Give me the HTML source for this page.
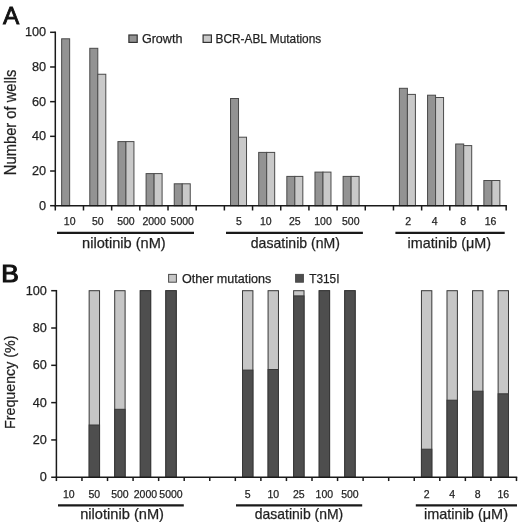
<!DOCTYPE html>
<html><head><meta charset="utf-8"><style>
html,body{margin:0;padding:0;background:#fff;}
svg{display:block;font-family:"Liberation Sans", sans-serif;filter:grayscale(1);}
text{stroke:#231f20;stroke-width:0.25px;}
</style></head><body>
<svg width="520" height="522" viewBox="0 0 520 522">
<rect x="61.65" y="38.80" width="8.00" height="166.90" fill="#939393" stroke="#4a4a4a" stroke-width="1"/>
<rect x="89.80" y="48.30" width="8.00" height="157.40" fill="#939393" stroke="#4a4a4a" stroke-width="1"/>
<rect x="97.80" y="74.25" width="8.00" height="131.45" fill="#c9c9c9" stroke="#4a4a4a" stroke-width="1"/>
<rect x="117.94" y="141.60" width="8.00" height="64.10" fill="#939393" stroke="#4a4a4a" stroke-width="1"/>
<rect x="125.94" y="141.60" width="8.00" height="64.10" fill="#c9c9c9" stroke="#4a4a4a" stroke-width="1"/>
<rect x="146.09" y="173.60" width="8.00" height="32.10" fill="#939393" stroke="#4a4a4a" stroke-width="1"/>
<rect x="154.09" y="173.60" width="8.00" height="32.10" fill="#c9c9c9" stroke="#4a4a4a" stroke-width="1"/>
<rect x="174.24" y="183.80" width="8.00" height="21.90" fill="#939393" stroke="#4a4a4a" stroke-width="1"/>
<rect x="182.24" y="183.80" width="8.00" height="21.90" fill="#c9c9c9" stroke="#4a4a4a" stroke-width="1"/>
<rect x="230.53" y="98.50" width="8.00" height="107.20" fill="#939393" stroke="#4a4a4a" stroke-width="1"/>
<rect x="238.53" y="137.20" width="8.00" height="68.50" fill="#c9c9c9" stroke="#4a4a4a" stroke-width="1"/>
<rect x="258.68" y="152.40" width="8.00" height="53.30" fill="#939393" stroke="#4a4a4a" stroke-width="1"/>
<rect x="266.68" y="152.40" width="8.00" height="53.30" fill="#c9c9c9" stroke="#4a4a4a" stroke-width="1"/>
<rect x="286.83" y="176.40" width="8.00" height="29.30" fill="#939393" stroke="#4a4a4a" stroke-width="1"/>
<rect x="294.83" y="176.40" width="8.00" height="29.30" fill="#c9c9c9" stroke="#4a4a4a" stroke-width="1"/>
<rect x="314.97" y="172.10" width="8.00" height="33.60" fill="#939393" stroke="#4a4a4a" stroke-width="1"/>
<rect x="322.97" y="172.10" width="8.00" height="33.60" fill="#c9c9c9" stroke="#4a4a4a" stroke-width="1"/>
<rect x="343.12" y="176.40" width="8.00" height="29.30" fill="#939393" stroke="#4a4a4a" stroke-width="1"/>
<rect x="351.12" y="176.40" width="8.00" height="29.30" fill="#c9c9c9" stroke="#4a4a4a" stroke-width="1"/>
<rect x="399.41" y="88.30" width="8.00" height="117.40" fill="#939393" stroke="#4a4a4a" stroke-width="1"/>
<rect x="407.41" y="94.40" width="8.00" height="111.30" fill="#c9c9c9" stroke="#4a4a4a" stroke-width="1"/>
<rect x="427.56" y="95.20" width="8.00" height="110.50" fill="#939393" stroke="#4a4a4a" stroke-width="1"/>
<rect x="435.56" y="97.50" width="8.00" height="108.20" fill="#c9c9c9" stroke="#4a4a4a" stroke-width="1"/>
<rect x="455.71" y="144.00" width="8.00" height="61.70" fill="#939393" stroke="#4a4a4a" stroke-width="1"/>
<rect x="463.71" y="145.60" width="8.00" height="60.10" fill="#c9c9c9" stroke="#4a4a4a" stroke-width="1"/>
<rect x="483.86" y="180.50" width="8.00" height="25.20" fill="#939393" stroke="#4a4a4a" stroke-width="1"/>
<rect x="491.86" y="180.50" width="8.00" height="25.20" fill="#c9c9c9" stroke="#4a4a4a" stroke-width="1"/>
<line x1="55.3" y1="31.549999999999997" x2="55.3" y2="206.45" stroke="#1a1a1a" stroke-width="1.5"/>
<line x1="54.55" y1="205.7" x2="506.93" y2="205.7" stroke="#1a1a1a" stroke-width="1.5"/>
<line x1="50.099999999999994" y1="205.70" x2="55.3" y2="205.70" stroke="#1a1a1a" stroke-width="1.5"/>
<text x="46.099999999999994" y="209.55" font-size="12.7" text-anchor="end" fill="#231f20">0</text>
<line x1="50.099999999999994" y1="171.02" x2="55.3" y2="171.02" stroke="#1a1a1a" stroke-width="1.5"/>
<text x="46.099999999999994" y="174.87" font-size="12.7" text-anchor="end" fill="#231f20">20</text>
<line x1="50.099999999999994" y1="136.34" x2="55.3" y2="136.34" stroke="#1a1a1a" stroke-width="1.5"/>
<text x="46.099999999999994" y="140.19" font-size="12.7" text-anchor="end" fill="#231f20">40</text>
<line x1="50.099999999999994" y1="101.66" x2="55.3" y2="101.66" stroke="#1a1a1a" stroke-width="1.5"/>
<text x="46.099999999999994" y="105.51" font-size="12.7" text-anchor="end" fill="#231f20">60</text>
<line x1="50.099999999999994" y1="66.98" x2="55.3" y2="66.98" stroke="#1a1a1a" stroke-width="1.5"/>
<text x="46.099999999999994" y="70.83" font-size="12.7" text-anchor="end" fill="#231f20">80</text>
<line x1="50.099999999999994" y1="32.30" x2="55.3" y2="32.30" stroke="#1a1a1a" stroke-width="1.5"/>
<text x="46.099999999999994" y="36.15" font-size="12.7" text-anchor="end" fill="#231f20">100</text>
<line x1="55.30" y1="205.7" x2="55.30" y2="210.5" stroke="#1a1a1a" stroke-width="1.5"/>
<line x1="83.48" y1="205.7" x2="83.48" y2="210.5" stroke="#1a1a1a" stroke-width="1.5"/>
<line x1="111.66" y1="205.7" x2="111.66" y2="210.5" stroke="#1a1a1a" stroke-width="1.5"/>
<line x1="139.84" y1="205.7" x2="139.84" y2="210.5" stroke="#1a1a1a" stroke-width="1.5"/>
<line x1="168.02" y1="205.7" x2="168.02" y2="210.5" stroke="#1a1a1a" stroke-width="1.5"/>
<line x1="196.20" y1="205.7" x2="196.20" y2="210.5" stroke="#1a1a1a" stroke-width="1.5"/>
<line x1="224.38" y1="205.7" x2="224.38" y2="210.5" stroke="#1a1a1a" stroke-width="1.5"/>
<line x1="252.56" y1="205.7" x2="252.56" y2="210.5" stroke="#1a1a1a" stroke-width="1.5"/>
<line x1="280.74" y1="205.7" x2="280.74" y2="210.5" stroke="#1a1a1a" stroke-width="1.5"/>
<line x1="308.92" y1="205.7" x2="308.92" y2="210.5" stroke="#1a1a1a" stroke-width="1.5"/>
<line x1="337.10" y1="205.7" x2="337.10" y2="210.5" stroke="#1a1a1a" stroke-width="1.5"/>
<line x1="365.28" y1="205.7" x2="365.28" y2="210.5" stroke="#1a1a1a" stroke-width="1.5"/>
<line x1="393.46" y1="205.7" x2="393.46" y2="210.5" stroke="#1a1a1a" stroke-width="1.5"/>
<line x1="421.64" y1="205.7" x2="421.64" y2="210.5" stroke="#1a1a1a" stroke-width="1.5"/>
<line x1="449.82" y1="205.7" x2="449.82" y2="210.5" stroke="#1a1a1a" stroke-width="1.5"/>
<line x1="478.00" y1="205.7" x2="478.00" y2="210.5" stroke="#1a1a1a" stroke-width="1.5"/>
<line x1="506.18" y1="205.7" x2="506.18" y2="210.5" stroke="#1a1a1a" stroke-width="1.5"/>
<text x="69.65" y="225.3" font-size="10.5" text-anchor="middle" fill="#231f20">10</text>
<text x="97.80" y="225.3" font-size="10.5" text-anchor="middle" fill="#231f20">50</text>
<text x="125.94" y="225.3" font-size="10.5" text-anchor="middle" fill="#231f20">500</text>
<text x="154.09" y="225.3" font-size="10.5" text-anchor="middle" fill="#231f20">2000</text>
<text x="182.24" y="225.3" font-size="10.5" text-anchor="middle" fill="#231f20">5000</text>
<text x="239.03" y="225.3" font-size="10.5" text-anchor="middle" fill="#231f20">5</text>
<text x="265.88" y="225.3" font-size="10.5" text-anchor="middle" fill="#231f20">10</text>
<text x="294.83" y="225.3" font-size="10.5" text-anchor="middle" fill="#231f20">25</text>
<text x="322.97" y="225.3" font-size="10.5" text-anchor="middle" fill="#231f20">100</text>
<text x="350.72" y="225.3" font-size="10.5" text-anchor="middle" fill="#231f20">500</text>
<text x="408.11" y="225.3" font-size="10.5" text-anchor="middle" fill="#231f20">2</text>
<text x="434.56" y="225.3" font-size="10.5" text-anchor="middle" fill="#231f20">4</text>
<text x="463.11" y="225.3" font-size="10.5" text-anchor="middle" fill="#231f20">8</text>
<text x="490.56" y="225.3" font-size="10.5" text-anchor="middle" fill="#231f20">16</text>
<line x1="57" y1="232.9" x2="194" y2="232.9" stroke="#1a1a1a" stroke-width="2.4"/>
<text x="82.1" y="248.0" font-size="14.4" fill="#231f20" textLength="83.6" lengthAdjust="spacingAndGlyphs">nilotinib (nM)</text>
<line x1="226" y1="232.9" x2="362.9" y2="232.9" stroke="#1a1a1a" stroke-width="2.4"/>
<text x="250.8" y="248.0" font-size="14.4" fill="#231f20" textLength="89.1" lengthAdjust="spacingAndGlyphs">dasatinib (nM)</text>
<line x1="395.4" y1="232.9" x2="504.7" y2="232.9" stroke="#1a1a1a" stroke-width="2.4"/>
<text x="407.6" y="248.0" font-size="14.4" fill="#231f20" textLength="83.4" lengthAdjust="spacingAndGlyphs">imatinib (μM)</text>
<rect x="128.9" y="35.0" width="8.3" height="7.4" fill="#939393" stroke="#333" stroke-width="1.2"/>
<text x="141.9" y="43.2" font-size="12.6" fill="#231f20" textLength="40.5" lengthAdjust="spacingAndGlyphs">Growth</text>
<rect x="203.1" y="35.0" width="8.3" height="7.4" fill="#c9c9c9" stroke="#333" stroke-width="1.2"/>
<text x="215.6" y="43.2" font-size="12.6" fill="#231f20" textLength="105.6" lengthAdjust="spacingAndGlyphs">BCR-ABL Mutations</text>
<text transform="translate(15.9,175.2) rotate(-90)" font-size="16.5" fill="#231f20" textLength="105.7" lengthAdjust="spacingAndGlyphs">Number of wells</text>
<text x="3.0" y="24.3" font-size="24.4" fill="#111" style="stroke:#111;stroke-width:0.8px">A</text>
<rect x="89.15" y="290.70" width="10.4" height="186.55" fill="#c6c6c6" stroke="#383838" stroke-width="1"/>
<rect x="89.15" y="425.00" width="10.4" height="52.25" fill="#4e4e4e" stroke="#383838" stroke-width="1"/>
<rect x="114.71" y="290.70" width="10.4" height="186.55" fill="#c6c6c6" stroke="#383838" stroke-width="1"/>
<rect x="114.71" y="409.30" width="10.4" height="67.95" fill="#4e4e4e" stroke="#383838" stroke-width="1"/>
<rect x="140.27" y="290.70" width="10.4" height="186.55" fill="#c6c6c6" stroke="#383838" stroke-width="1"/>
<rect x="140.27" y="290.70" width="10.4" height="186.55" fill="#4e4e4e" stroke="#383838" stroke-width="1"/>
<rect x="165.83" y="290.70" width="10.4" height="186.55" fill="#c6c6c6" stroke="#383838" stroke-width="1"/>
<rect x="165.83" y="290.70" width="10.4" height="186.55" fill="#4e4e4e" stroke="#383838" stroke-width="1"/>
<rect x="242.51" y="290.70" width="10.4" height="186.55" fill="#c6c6c6" stroke="#383838" stroke-width="1"/>
<rect x="242.51" y="370.10" width="10.4" height="107.15" fill="#4e4e4e" stroke="#383838" stroke-width="1"/>
<rect x="268.07" y="290.70" width="10.4" height="186.55" fill="#c6c6c6" stroke="#383838" stroke-width="1"/>
<rect x="268.07" y="369.50" width="10.4" height="107.75" fill="#4e4e4e" stroke="#383838" stroke-width="1"/>
<rect x="293.63" y="290.70" width="10.4" height="186.55" fill="#c6c6c6" stroke="#383838" stroke-width="1"/>
<rect x="293.63" y="295.90" width="10.4" height="181.35" fill="#4e4e4e" stroke="#383838" stroke-width="1"/>
<rect x="319.19" y="290.70" width="10.4" height="186.55" fill="#c6c6c6" stroke="#383838" stroke-width="1"/>
<rect x="319.19" y="290.70" width="10.4" height="186.55" fill="#4e4e4e" stroke="#383838" stroke-width="1"/>
<rect x="344.75" y="290.70" width="10.4" height="186.55" fill="#c6c6c6" stroke="#383838" stroke-width="1"/>
<rect x="344.75" y="290.70" width="10.4" height="186.55" fill="#4e4e4e" stroke="#383838" stroke-width="1"/>
<rect x="421.43" y="290.70" width="10.4" height="186.55" fill="#c6c6c6" stroke="#383838" stroke-width="1"/>
<rect x="421.43" y="449.20" width="10.4" height="28.05" fill="#4e4e4e" stroke="#383838" stroke-width="1"/>
<rect x="446.99" y="290.70" width="10.4" height="186.55" fill="#c6c6c6" stroke="#383838" stroke-width="1"/>
<rect x="446.99" y="400.20" width="10.4" height="77.05" fill="#4e4e4e" stroke="#383838" stroke-width="1"/>
<rect x="472.55" y="290.70" width="10.4" height="186.55" fill="#c6c6c6" stroke="#383838" stroke-width="1"/>
<rect x="472.55" y="391.20" width="10.4" height="86.05" fill="#4e4e4e" stroke="#383838" stroke-width="1"/>
<rect x="498.11" y="290.70" width="10.4" height="186.55" fill="#c6c6c6" stroke="#383838" stroke-width="1"/>
<rect x="498.11" y="393.80" width="10.4" height="83.45" fill="#4e4e4e" stroke="#383838" stroke-width="1"/>
<line x1="56.4" y1="289.95" x2="56.4" y2="478.0" stroke="#1a1a1a" stroke-width="1.5"/>
<line x1="55.65" y1="477.25" x2="517.23" y2="477.25" stroke="#1a1a1a" stroke-width="1.5"/>
<line x1="51.199999999999996" y1="477.25" x2="56.4" y2="477.25" stroke="#1a1a1a" stroke-width="1.5"/>
<text x="46.9" y="481.20" font-size="12.7" text-anchor="end" fill="#231f20">0</text>
<line x1="51.199999999999996" y1="439.94" x2="56.4" y2="439.94" stroke="#1a1a1a" stroke-width="1.5"/>
<text x="46.9" y="443.89" font-size="12.7" text-anchor="end" fill="#231f20">20</text>
<line x1="51.199999999999996" y1="402.63" x2="56.4" y2="402.63" stroke="#1a1a1a" stroke-width="1.5"/>
<text x="46.9" y="406.58" font-size="12.7" text-anchor="end" fill="#231f20">40</text>
<line x1="51.199999999999996" y1="365.32" x2="56.4" y2="365.32" stroke="#1a1a1a" stroke-width="1.5"/>
<text x="46.9" y="369.27" font-size="12.7" text-anchor="end" fill="#231f20">60</text>
<line x1="51.199999999999996" y1="328.01" x2="56.4" y2="328.01" stroke="#1a1a1a" stroke-width="1.5"/>
<text x="46.9" y="331.96" font-size="12.7" text-anchor="end" fill="#231f20">80</text>
<line x1="51.199999999999996" y1="290.70" x2="56.4" y2="290.70" stroke="#1a1a1a" stroke-width="1.5"/>
<text x="46.9" y="294.65" font-size="12.7" text-anchor="end" fill="#231f20">100</text>
<line x1="56.40" y1="477.25" x2="56.40" y2="481.05" stroke="#1a1a1a" stroke-width="1.5"/>
<line x1="81.96" y1="477.25" x2="81.96" y2="481.05" stroke="#1a1a1a" stroke-width="1.5"/>
<line x1="107.52" y1="477.25" x2="107.52" y2="481.05" stroke="#1a1a1a" stroke-width="1.5"/>
<line x1="133.08" y1="477.25" x2="133.08" y2="481.05" stroke="#1a1a1a" stroke-width="1.5"/>
<line x1="158.64" y1="477.25" x2="158.64" y2="481.05" stroke="#1a1a1a" stroke-width="1.5"/>
<line x1="184.20" y1="477.25" x2="184.20" y2="481.05" stroke="#1a1a1a" stroke-width="1.5"/>
<line x1="209.76" y1="477.25" x2="209.76" y2="481.05" stroke="#1a1a1a" stroke-width="1.5"/>
<line x1="235.32" y1="477.25" x2="235.32" y2="481.05" stroke="#1a1a1a" stroke-width="1.5"/>
<line x1="260.88" y1="477.25" x2="260.88" y2="481.05" stroke="#1a1a1a" stroke-width="1.5"/>
<line x1="286.44" y1="477.25" x2="286.44" y2="481.05" stroke="#1a1a1a" stroke-width="1.5"/>
<line x1="312.00" y1="477.25" x2="312.00" y2="481.05" stroke="#1a1a1a" stroke-width="1.5"/>
<line x1="337.56" y1="477.25" x2="337.56" y2="481.05" stroke="#1a1a1a" stroke-width="1.5"/>
<line x1="363.12" y1="477.25" x2="363.12" y2="481.05" stroke="#1a1a1a" stroke-width="1.5"/>
<line x1="388.68" y1="477.25" x2="388.68" y2="481.05" stroke="#1a1a1a" stroke-width="1.5"/>
<line x1="414.24" y1="477.25" x2="414.24" y2="481.05" stroke="#1a1a1a" stroke-width="1.5"/>
<line x1="439.80" y1="477.25" x2="439.80" y2="481.05" stroke="#1a1a1a" stroke-width="1.5"/>
<line x1="465.36" y1="477.25" x2="465.36" y2="481.05" stroke="#1a1a1a" stroke-width="1.5"/>
<line x1="490.92" y1="477.25" x2="490.92" y2="481.05" stroke="#1a1a1a" stroke-width="1.5"/>
<line x1="516.48" y1="477.25" x2="516.48" y2="481.05" stroke="#1a1a1a" stroke-width="1.5"/>
<text x="68.79" y="498.0" font-size="10.5" text-anchor="middle" fill="#231f20">10</text>
<text x="94.35" y="498.0" font-size="10.5" text-anchor="middle" fill="#231f20">50</text>
<text x="119.91" y="498.0" font-size="10.5" text-anchor="middle" fill="#231f20">500</text>
<text x="145.47" y="498.0" font-size="10.5" text-anchor="middle" fill="#231f20">2000</text>
<text x="171.03" y="498.0" font-size="10.5" text-anchor="middle" fill="#231f20">5000</text>
<text x="247.71" y="498.0" font-size="10.5" text-anchor="middle" fill="#231f20">5</text>
<text x="273.27" y="498.0" font-size="10.5" text-anchor="middle" fill="#231f20">10</text>
<text x="298.83" y="498.0" font-size="10.5" text-anchor="middle" fill="#231f20">25</text>
<text x="324.39" y="498.0" font-size="10.5" text-anchor="middle" fill="#231f20">100</text>
<text x="349.95" y="498.0" font-size="10.5" text-anchor="middle" fill="#231f20">500</text>
<text x="426.63" y="498.0" font-size="10.5" text-anchor="middle" fill="#231f20">2</text>
<text x="452.19" y="498.0" font-size="10.5" text-anchor="middle" fill="#231f20">4</text>
<text x="477.75" y="498.0" font-size="10.5" text-anchor="middle" fill="#231f20">8</text>
<text x="503.31" y="498.0" font-size="10.5" text-anchor="middle" fill="#231f20">16</text>
<line x1="58" y1="505.3" x2="183.8" y2="505.3" stroke="#1a1a1a" stroke-width="2.3"/>
<text x="80.2" y="518.7" font-size="14.4" fill="#231f20" textLength="83.8" lengthAdjust="spacingAndGlyphs">nilotinib (nM)</text>
<line x1="236" y1="505.3" x2="362.2" y2="505.3" stroke="#1a1a1a" stroke-width="2.3"/>
<text x="254.8" y="518.7" font-size="14.4" fill="#231f20" textLength="88.4" lengthAdjust="spacingAndGlyphs">dasatinib (nM)</text>
<line x1="415.8" y1="505.3" x2="517" y2="505.3" stroke="#1a1a1a" stroke-width="2.3"/>
<text x="424.0" y="518.7" font-size="14.4" fill="#231f20" textLength="84.0" lengthAdjust="spacingAndGlyphs">imatinib (μM)</text>
<rect x="168.6" y="274.4" width="7.8" height="7.8" fill="#c6c6c6" stroke="#4a4a4a" stroke-width="1"/>
<text x="181.9" y="282.6" font-size="12.2" fill="#231f20" textLength="89.4" lengthAdjust="spacingAndGlyphs">Other mutations</text>
<rect x="295.6" y="274.4" width="7.8" height="7.8" fill="#4e4e4e" stroke="#4a4a4a" stroke-width="1"/>
<text x="309.2" y="282.6" font-size="12.2" fill="#231f20" textLength="30.3" lengthAdjust="spacingAndGlyphs">T315I</text>
<text transform="translate(14.9,429.0) rotate(-90)" font-size="14.9" fill="#231f20" textLength="93.5" lengthAdjust="spacingAndGlyphs">Frequency (%)</text>
<text x="1.3" y="282.2" font-size="24.4" fill="#111" textLength="17.6" lengthAdjust="spacingAndGlyphs" style="stroke:#111;stroke-width:1.1px">B</text>
</svg>
</body></html>
